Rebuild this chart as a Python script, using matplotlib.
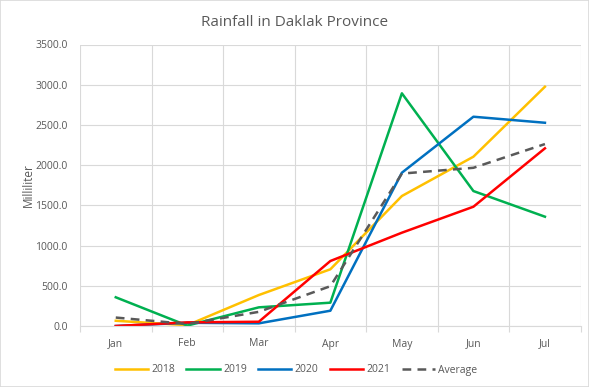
import matplotlib
matplotlib.use("Agg")
import matplotlib.pyplot as plt
from matplotlib.ticker import FixedLocator, FuncFormatter

months = ["Jan", "Feb", "Mar", "Apr", "May", "Jun", "Jul"]
rain_2018 = [65, 10, 385, 705, 1616, 2105, 2975]
rain_2019 = [357, 5, 232, 290, 2893, 1678, 1359]
rain_2020 = [0, 40, 33, 190, 1906, 2602, 2527]
rain_2021 = [0, 45, 53, 808, 1160, 1483, 2209]
rain_avg = [105, 25, 176, 495, 1895, 1967, 2262]
yticks = [0, 500, 1000, 1500, 2000, 2500, 3000, 3500]

plt.rcParams['font.family'] = ['Open Sans', 'DejaVu Sans']
txt = "#595959"
grid = "#D9D9D9"

fig = plt.figure(figsize=(5.89, 3.87), dpi=100)
ax = fig.add_axes([80/589, 61/387, 500.7/589, 281.5/387])

x = list(range(len(months)))
ax.plot(x, rain_2018, color="#FFC000", lw=1.8, label="2018")
ax.plot(x, rain_2019, color="#00B050", lw=1.8, label="2019")
ax.plot(x, rain_2020, color="#0070C0", lw=1.8, label="2020")
ax.plot(x, rain_2021, color="#FF0000", lw=1.8, label="2021")
ax.plot(x, rain_avg, color="#595959", lw=1.8, ls=(0, (3.5, 2.5)), label="Average")

ax.set_xlim(-0.5, len(months) - 0.5)
ax.set_ylim(0, 3500)
ax.set_yticks(yticks)
ax.yaxis.set_major_formatter(FuncFormatter(lambda v, p: f"{v:.1f}"))
ax.set_xticks(x)
ax.set_xticklabels(months)
ax.xaxis.set_minor_locator(FixedLocator([i - 0.5 for i in range(len(months) + 1)]))

ax.grid(axis='y', color=grid, lw=0.8)
ax.grid(axis='x', which='minor', color=grid, lw=0.8)
ax.set_axisbelow(True)

for s in ['top', 'right', 'left']:
    ax.spines[s].set_visible(False)
ax.spines['bottom'].set_color(grid)
ax.spines['bottom'].set_linewidth(0.8)

ax.tick_params(axis='y', length=0, labelsize=7.5, labelcolor=txt, pad=9)
ax.tick_params(axis='x', which='major', length=0, labelsize=7.5, labelcolor=txt, pad=9)
ax.tick_params(axis='x', which='minor', length=4, color=grid, width=0.8)

ax.set_ylabel("Milliliter", fontsize=8.5, color=txt, labelpad=0)
fig.text(0.5, 1 - 22/387, "Rainfall in Daklak Province", ha='center', va='center',
         fontsize=11, color=txt)

leg = fig.legend(loc='center', bbox_to_anchor=(296/589, 1 - 370/387), ncol=5, frameon=False,
                 fontsize=7.5, handlelength=3.2, handletextpad=0.3, columnspacing=1.1)
for t in leg.get_texts():
    t.set_color(txt)

# chart border
fig.patches.append(plt.Rectangle((0, 0), 1, 1, transform=fig.transFigure, fill=False,
                                 edgecolor=grid, lw=1.2))

fig.savefig("out.png", dpi=100)
